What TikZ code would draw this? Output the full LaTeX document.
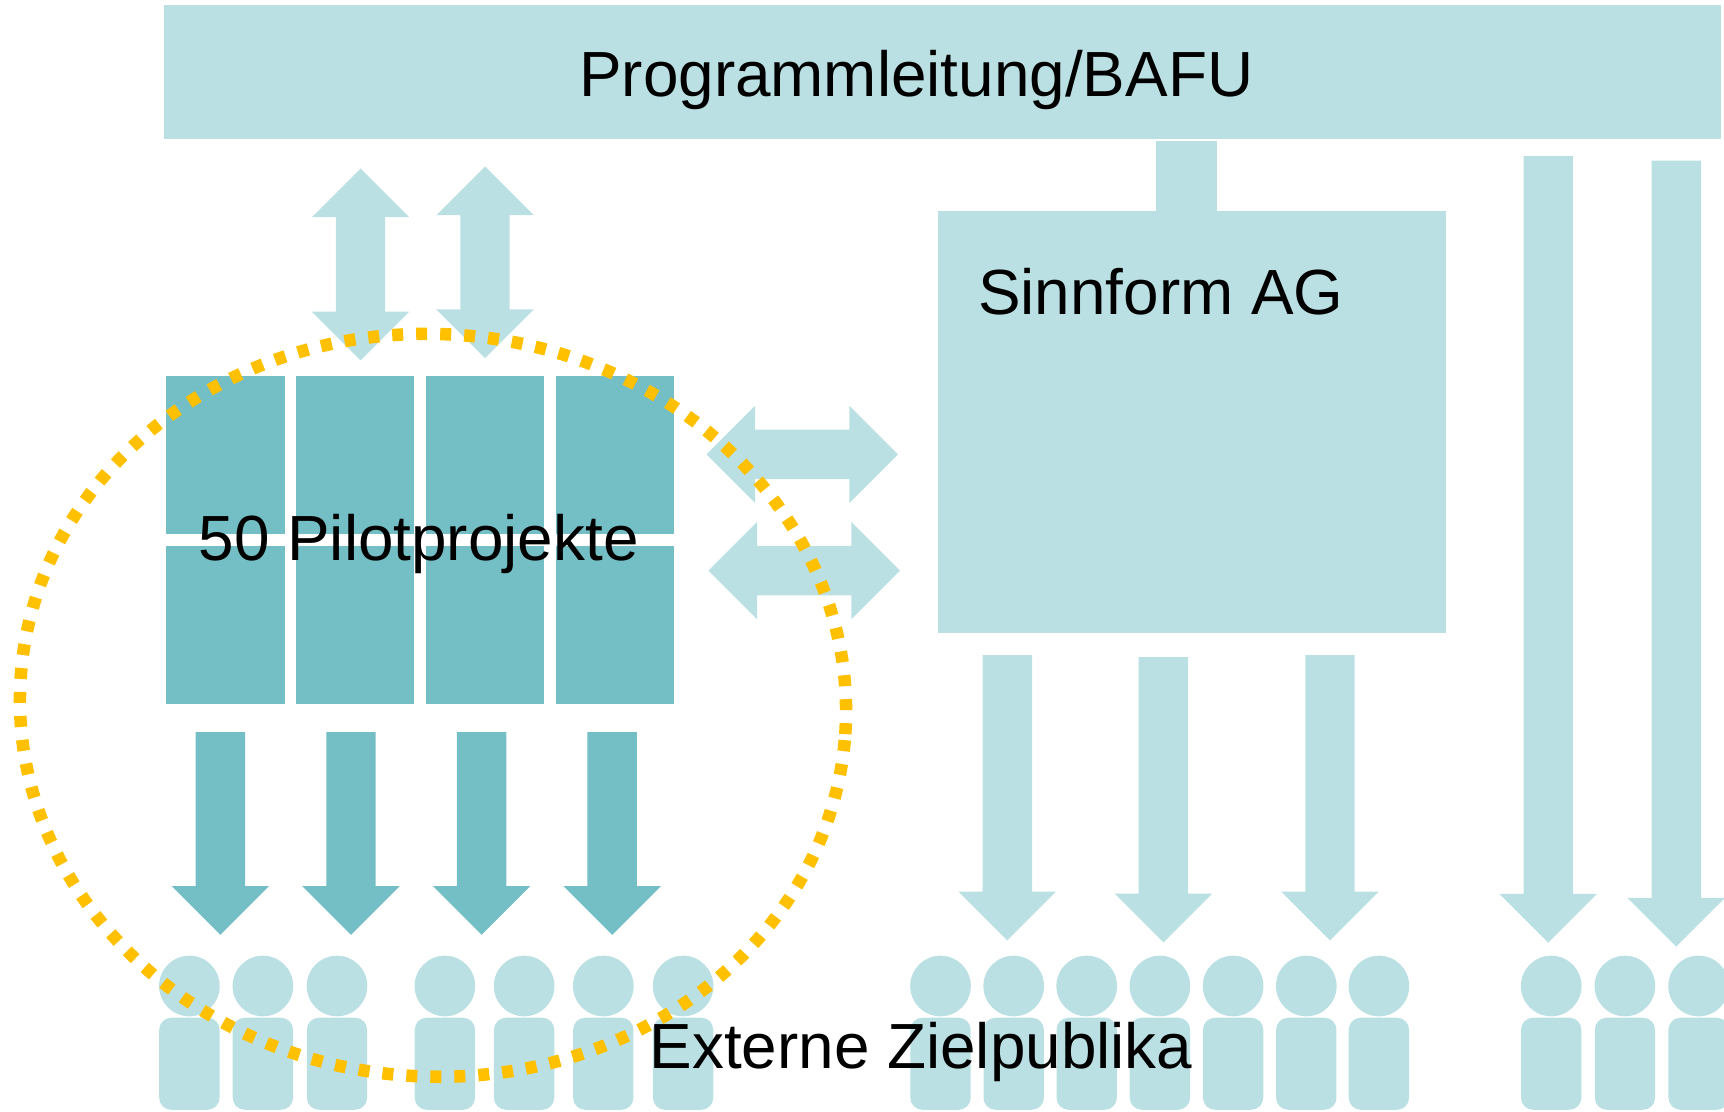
\documentclass[tikz,border=0pt]{standalone}
\usepackage{fontspec}
\setmainfont{Liberation Sans}
\usetikzlibrary{shapes.arrows,shapes.geometric}
\definecolor{lightteal}{HTML}{BBE0E3}
\definecolor{darkteal}{HTML}{74BEC5}
\definecolor{dotorange}{HTML}{FFC000}
\tikzset{
	lightbox/.style={rectangle, fill=lightteal, inner sep=0, anchor=north west},
	darkbox/.style={rectangle, fill=darkteal, inner sep=0, anchor=north west, minimum width=1.185cm, minimum height=1.585cm},
	bigtext/.style={inner sep=0, anchor=base west, font=\fontsize{18.15pt}{22pt}\selectfont},
	downarrow/.style={single arrow, shape border rotate=270, anchor=tail, inner xsep=0.24cm, inner ysep=0, minimum width=0.96cm, single arrow head extend=0.24cm},
	twoarrow/.style={double arrow, fill=lightteal, minimum width=0.96cm, double arrow head extend=0.24cm},
	personhead/.style={circle, fill=lightteal, inner sep=0, minimum size=0.606cm},
	personbody/.style={rectangle, rounded corners=0.12cm, fill=lightteal, inner sep=0, anchor=north, minimum width=0.603cm, minimum height=0.92cm}
}
\begin{document}
\begin{tikzpicture}[x=0.01cm, y=-0.01cm]
			\useasboundingbox (0, 0) rectangle (1724, 1112);
			\node[lightbox, minimum width=15.56cm, minimum height=1.34cm] (leitung)at(163.5, 4) {};
			\node[lightbox, minimum width=0.615cm, minimum height=0.70cm] (link)at(1155, 140) {};
			\node[lightbox, minimum width=5.07cm, minimum height=4.22cm] (sinnform)at(937.5, 210) {};
			\node[darkbox] (p1)at(165.5, 375) {};
			\node[darkbox] (p2)at(295, 375) {};
			\node[darkbox] (p3)at(425, 375) {};
			\node[darkbox] (p4)at(555, 375) {};
			\node[darkbox] (p5)at(165.5, 545) {};
			\node[darkbox] (p6)at(295, 545) {};
			\node[darkbox] (p7)at(425, 545) {};
			\node[darkbox] (p8)at(555, 545) {};
			\node[twoarrow, shape border rotate=90, anchor=tip 1, inner xsep=0.24cm, inner ysep=0, minimum height=1.917cm] (up1)at(360.5, 167.5) {};
			\node[twoarrow, shape border rotate=90, anchor=tip 1, inner xsep=0.24cm, inner ysep=0, minimum height=1.915cm] (up2)at(485, 165.5) {};
			\node[twoarrow, anchor=tip 1, inner xsep=0, inner ysep=0.24cm, minimum height=1.914cm] (side1)at(899, 454.3) {};
			\node[twoarrow, anchor=tip 1, inner xsep=0, inner ysep=0.24cm, minimum height=1.915cm] (side2)at(901, 570.6) {};
			\node[downarrow, fill=darkteal, minimum height=2.025cm] (d1)at(220.4, 731.5) {};
			\node[downarrow, fill=darkteal, minimum height=2.025cm] (d2)at(351, 731.5) {};
			\node[downarrow, fill=darkteal, minimum height=2.025cm] (d3)at(481.6, 731.5) {};
			\node[downarrow, fill=darkteal, minimum height=2.025cm] (d4)at(612.2, 731.5) {};
			\node[downarrow, fill=lightteal, minimum height=2.85cm] (s1)at(1007.3, 654.5) {};
			\node[downarrow, fill=lightteal, minimum height=2.85cm] (s2)at(1163.4, 656.5) {};
			\node[downarrow, fill=lightteal, minimum height=2.85cm] (s3)at(1330, 654.5) {};
			\node[downarrow, fill=lightteal, minimum height=7.86cm] (l1)at(1548.2, 155.5) {};
			\node[downarrow, fill=lightteal, minimum height=7.855cm] (l2)at(1676.3, 160) {};
			\node[personhead] (h1)at(189.4, 986) {};
			\node[personbody] (b1)at(189.4, 1017) {};
			\node[personhead] (h2)at(262.9, 986) {};
			\node[personbody] (b2)at(262.9, 1017) {};
			\node[personhead] (h3)at(337, 986) {};
			\node[personbody] (b3)at(337, 1017) {};
			\node[personhead] (h4)at(444.9, 986) {};
			\node[personbody] (b4)at(444.9, 1017) {};
			\node[personhead] (h5)at(524.1, 986) {};
			\node[personbody] (b5)at(524.1, 1017) {};
			\node[personhead] (h6)at(603.3, 986) {};
			\node[personbody] (b6)at(603.3, 1017) {};
			\node[personhead] (h7)at(683.1, 986) {};
			\node[personbody] (b7)at(683.1, 1017) {};
			\node[personhead] (h8)at(940.5, 986) {};
			\node[personbody] (b8)at(940.5, 1017) {};
			\node[personhead] (h9)at(1013.7, 986) {};
			\node[personbody] (b9)at(1013.7, 1017) {};
			\node[personhead] (h10)at(1086.7, 986) {};
			\node[personbody] (b10)at(1086.7, 1017) {};
			\node[personhead] (h11)at(1159.9, 986) {};
			\node[personbody] (b11)at(1159.9, 1017) {};
			\node[personhead] (h12)at(1233.1, 986) {};
			\node[personbody] (b12)at(1233.1, 1017) {};
			\node[personhead] (h13)at(1306.3, 986) {};
			\node[personbody] (b13)at(1306.3, 1017) {};
			\node[personhead] (h14)at(1378.9, 986) {};
			\node[personbody] (b14)at(1378.9, 1017) {};
			\node[personhead] (h15)at(1551.2, 986) {};
			\node[personbody] (b15)at(1551.2, 1017) {};
			\node[personhead] (h16)at(1624.9, 986) {};
			\node[personbody] (b16)at(1624.9, 1017) {};
			\node[personhead] (h17)at(1698.6, 986) {};
			\node[personbody] (b17)at(1698.6, 1017) {};
			\node[ellipse, draw=dotorange, line width=0.125cm, dash pattern=on 0.11cm off 0.13cm, inner sep=0, minimum width=8.26cm, minimum height=7.42cm, rotate=-4] (pilotring)at(433, 705.3) {};
			\node[bigtext] (leitungtext)at(578.5, 96.4) {Programmleitung/BAFU};
			\node[bigtext] (sinnformtext)at(977.5, 314.5) {Sinnform AG};
			\node[bigtext] (pilottext)at(198, 560.2) {50 Pilotprojekte};
			\node[bigtext] (zieltext)at(649, 1068) {Externe Zielpublika};
		\end{tikzpicture}
\end{document}
